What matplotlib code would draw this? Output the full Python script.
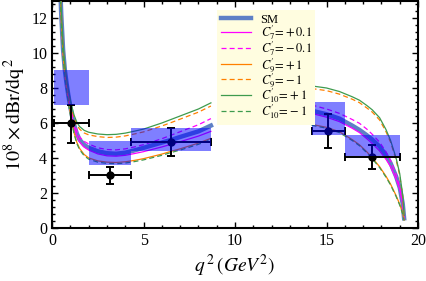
import numpy as np
import matplotlib
matplotlib.use("Agg")
import matplotlib.pyplot as plt
from matplotlib.ticker import MultipleLocator

plt.rcParams["font.family"] = ["Liberation Serif", "DejaVu Serif"]
plt.rcParams["mathtext.fontset"] = "stix"

# q^2 grids of the two windows (GeV^2)
q2_low = [0.45, 0.5, 0.6, 0.7, 0.8, 0.9, 1.0, 1.1, 1.2, 1.35, 1.5, 1.75, 2.0,
          2.5, 3.0, 3.5, 4.0, 4.5, 5.0, 6.0, 6.5, 7.0, 8.0, 8.68]
q2_high = [14.18, 15.0, 15.7, 16.4, 16.8, 17.2, 17.5, 17.9, 18.25, 18.5,
           18.8, 19.0, 19.16, 19.24]

# SM
sm_low = [13.6, 12.2, 10.2, 9.0, 8.2, 7.5, 6.9, 6.35, 5.9, 5.4, 5.05, 4.75, 4.58,
          4.38, 4.27, 4.24, 4.3, 4.43, 4.58, 4.88, 5.03, 5.2, 5.52, 5.85]
sm_high = [6.7, 6.5, 6.25, 5.85, 5.6, 5.3, 5.05, 4.65, 4.15, 3.7, 2.95, 2.3, 1.4, 0.55]

# C7' = +0.1 / -0.1
c7p_low = [13.5, 12.1, 10.1, 8.9, 8.1, 7.4, 6.8, 6.25, 5.8, 5.28, 4.92, 4.62, 4.45,
           4.23, 4.12, 4.1, 4.15, 4.25, 4.36, 4.63, 4.78, 4.93, 5.25, 5.52]
c7p_high = [6.55, 6.33, 6.08, 5.7, 5.45, 5.1, 4.82, 4.4, 3.92, 3.5, 2.8, 2.2, 1.35, 0.5]
c7m_low = [13.7, 12.3, 10.3, 9.1, 8.3, 7.6, 7.05, 6.5, 6.05, 5.55, 5.2, 4.95, 4.8,
           4.58, 4.48, 4.46, 4.52, 4.63, 4.76, 5.1, 5.3, 5.5, 5.9, 6.25]
c7m_high = [7.03, 6.8, 6.55, 6.2, 5.98, 5.65, 5.35, 4.9, 4.35, 3.85, 3.05, 2.35, 1.45, 0.55]

# C9' = +1 / -1
c9p_low = [13.3, 11.9, 9.9, 8.7, 7.9, 7.2, 6.55, 5.95, 5.45, 4.9, 4.55, 4.2, 4.0,
           3.83, 3.76, 3.74, 3.78, 3.86, 3.96, 4.22, 4.38, 4.52, 4.85, 5.12]
c9p_high = [5.92, 5.75, 5.5, 5.05, 4.75, 4.35, 4.0, 3.5, 2.95, 2.5, 1.85, 1.35, 0.85, 0.45]
c9m_low = [13.8, 12.4, 10.4, 9.2, 8.35, 7.7, 7.15, 6.7, 6.3, 5.9, 5.65, 5.43, 5.32,
           5.22, 5.17, 5.19, 5.26, 5.37, 5.49, 5.83, 6.02, 6.22, 6.62, 6.97]
c9m_high = [7.97, 7.85, 7.65, 7.36, 7.16, 6.86, 6.62, 6.17, 5.5, 4.9, 3.9, 3.0, 1.8, 0.65]

# C10' = +1 / -1
c10p_low = [13.9, 12.5, 10.5, 9.3, 8.5, 7.85, 7.3, 6.85, 6.45, 6.05, 5.8, 5.58, 5.47,
            5.37, 5.33, 5.35, 5.42, 5.53, 5.65, 6.0, 6.2, 6.4, 6.8, 7.15]
c10p_high = [8.12, 8.0, 7.8, 7.5, 7.3, 7.0, 6.75, 6.3, 5.62, 5.0, 4.0, 3.1, 1.9, 0.7]
c10m_low = [13.2, 11.8, 9.8, 8.6, 7.8, 7.1, 6.45, 5.87, 5.38, 4.83, 4.48, 4.13, 3.93,
            3.76, 3.69, 3.67, 3.71, 3.79, 3.89, 4.15, 4.31, 4.45, 4.78, 5.05]
c10m_high = [5.87, 5.7, 5.45, 5.0, 4.7, 4.3, 3.95, 3.45, 2.9, 2.45, 1.8, 1.3, 0.8, 0.42]

# SM bin predictions
bin_lo = [0.1, 2.0, 4.3, 14.18, 16.0]
bin_hi = [2.0, 4.3, 8.68, 16.0, 19.0]
box_lo = [7.05, 3.58, 4.38, 5.33, 4.12]
box_hi = [9.05, 4.95, 5.72, 7.18, 5.32]

# measurements
data_x = [1.05, 3.15, 6.49, 15.09, 17.5]
data_y = [6.0, 3.0, 4.9, 5.55, 4.06]
data_ylo = [1.15, 0.5, 0.8, 1.0, 0.7]
data_yhi = [1.05, 0.5, 0.8, 0.95, 0.67]

fig = plt.figure(figsize=(4.27, 2.81), dpi=100)
ax = fig.add_axes([0.122, 0.189, 0.857, 0.809])

curves = [
    (c7p_low, c7p_high, "magenta", "-", r"$C_7'\!=\!+0.1$"),
    (c7m_low, c7m_high, "magenta", (0, (4, 2.5)), r"$C_7'\!=\!-0.1$"),
    (c9p_low, c9p_high, "#FF8000", "-", r"$C_9'\!=\!+1$"),
    (c9m_low, c9m_high, "#FF8000", (0, (4, 2.5)), r"$C_9'\!=\!-1$"),
    (c10p_low, c10p_high, "#3E9B4E", "-", r"$C_{10}'\!=\!+1$"),
    (c10m_low, c10m_high, "#3E9B4E", (0, (4, 2.5)), r"$C_{10}'\!=\!-1$"),
]

handles = []
h, = ax.plot(q2_low, sm_low, color="#5E80C6", lw=3.2, label="SM", zorder=2)
ax.plot(q2_high, sm_high, color="#5E80C6", lw=3.2, zorder=2)
handles.append(h)
for lo, hi, col, ls, lab in curves:
    h, = ax.plot(q2_low, lo, color=col, ls=ls, lw=0.9, label=lab, zorder=3)
    ax.plot(q2_high, hi, color=col, ls=ls, lw=0.9, zorder=3)
    handles.append(h)

x = np.array(data_x)
ax.errorbar(data_x, data_y,
            xerr=[x - np.array(bin_lo), np.array(bin_hi) - x],
            yerr=[data_ylo, data_yhi],
            fmt="o", color="black", ms=5, elinewidth=1.4, capsize=3,
            capthick=1.4, zorder=4)

ax.bar(bin_lo, np.array(box_hi) - np.array(box_lo), bottom=box_lo,
       width=np.array(bin_hi) - np.array(bin_lo), align="edge",
       color="blue", alpha=0.5, linewidth=0, zorder=5)

ax.set_xlim(0, 20)
ax.set_ylim(0, 13)
ax.xaxis.set_major_locator(MultipleLocator(5))
ax.xaxis.set_minor_locator(MultipleLocator(1))
ax.yaxis.set_major_locator(MultipleLocator(2))
ax.yaxis.set_minor_locator(MultipleLocator(0.4))
ax.tick_params(which="both", direction="in", top=True, right=True,
               labelsize=11.5, width=1.0)
ax.tick_params(which="major", length=4)
ax.tick_params(which="minor", length=2)
for s in ax.spines.values():
    s.set_linewidth(1.5)

ax.set_xlabel(r"$q^{\,2}\,(GeV^2)$", fontsize=14, labelpad=3)
ax.set_ylabel(r"$10^8\times\mathrm{dBr/dq}^{\,2}$", fontsize=14.5, labelpad=2)

leg = ax.legend(handles=handles, loc="upper left",
                bbox_to_anchor=(0.45, 0.958), fontsize=9,
                facecolor="#FFFDE0", edgecolor="none", framealpha=1,
                fancybox=False, handlelength=2.4, handletextpad=0.8,
                labelspacing=-0.2, borderpad=0.3, borderaxespad=0)
leg.set_zorder(6)

fig.savefig("out.png", dpi=100)
